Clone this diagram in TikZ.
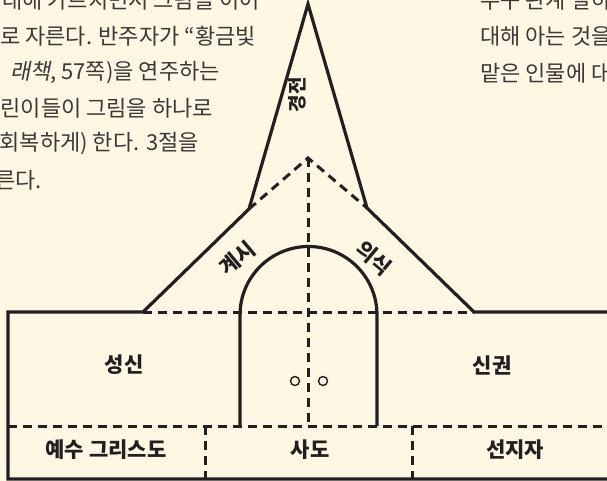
\documentclass[tikz,border=0pt]{standalone}
\usepackage{fontspec}
\setmainfont{Noto Sans CJK KR}
\newfontfamily\slanted[FakeSlant=0.2]{Noto Sans CJK KR}
\definecolor{paper}{RGB}{253,247,228}
\definecolor{ink}{RGB}{35,31,32}
\definecolor{prose}{RGB}{60,56,56}
\tikzset{
  outline/.style={ink, line width=3.2pt, line join=miter},
  divider/.style={ink, line width=3pt, dash pattern=on 9pt off 6pt},
  label/.style={font=\fontsize{21}{21}\selectfont\bfseries, text=ink},
  prosetext/.style={font=\fontsize{22}{22}\selectfont, text=prose, inner sep=0pt},
}
\begin{document}
\begin{tikzpicture}[x=1pt, y=-1pt]
\useasboundingbox (0,0) rectangle (607,481);
\fill[paper] (0,0) rectangle (607,481);
\clip (0,0) rectangle (607,481);

\path (308,4) coordinate (tip)
      (249,209) coordinate (spireL)
      (367,208) coordinate (spireR)
      (308,158) coordinate (apex)
      (143,312) coordinate (shoulderL)
      (474,312) coordinate (shoulderR)
      (8,312) coordinate (cornerTL)
      (8,479) coordinate (cornerBL);

\draw[outline] (620,312) -- (shoulderR) -- (spireR) -- (tip) -- (spireL)
  -- (shoulderL) -- (cornerTL) -- (cornerBL) -- (620,479);

%%%%%%%%%%%%%%%%%%%%%%%%%%%%%%%%%%%%%%%%

\draw[divider] (shoulderL) -- (shoulderR);
\draw[divider] (spireL) -- (apex) -- (spireR);
\draw[divider] (apex) -- ++(0,268) coordinate (mid);
\draw[divider] (cornerBL) ++(0,-53) coordinate (rowL) -- (620,426);
\draw[divider] (205,426) -- ++(0,53);
\draw[divider] (412,426) -- ++(0,53);

\draw[outline] (240,426) -- (240,315) arc (180:360:68.5) -- (377,426);
\draw[ink, line width=1.4pt] (295,381) circle (4.5) (323,381) circle (4.5);

%%%%%%%%%%%%%%%%%%%%%%%%%%%%%%%%%%%%%%%%

\node[label, font=\fontsize{19}{19}\selectfont\bfseries, rotate=90] (canon) at (297,95) {경전};
\node[label, rotate=40] (revelation) at (237,258) {계시};
\node[label, rotate=-40] (ritual) at (374,258) {의식};
\node[label] (spirit) at (124,365) {성신};
\node[label] (priesthood) at (492,365) {신권};
\node[label] (christ) at (106,450) {예수 그리스도};
\node[label] (apostles) at (310,450) {사도};
\node[label] (prophets) at (515,450) {선지자};

%%%%%%%%%%%%%%%%%%%%%%%%%%%%%%%%%%%%%%%%

\node[prosetext, anchor=east] (proseA) at (260,0) {에 대해 가르치면서 그림을 이어};
\node[prosetext, anchor=east] (proseB) at (256,36) {로 자른다. 반주자가 “황금빛};
\node[prosetext, anchor=east] (proseC) at (220,73) {{\slanted 래책}, 57쪽)을 연주하는};
\node[prosetext, anchor=east] (proseD) at (213,108) {린이들이 그림을 하나로};
\node[prosetext, anchor=east] (proseE) at (199,144) {회복하게) 한다. 3절을};
\node[prosetext, anchor=east] (proseF) at (42,180) {른다.};
\node[prosetext, anchor=west] (proseG) at (480,0) {누구 관계 말하};
\node[prosetext, anchor=west] (proseH) at (480,36) {대해 아는 것을};
\node[prosetext, anchor=west] (proseI) at (480,73) {맡은 인물에 대};
\end{tikzpicture}
\end{document}
